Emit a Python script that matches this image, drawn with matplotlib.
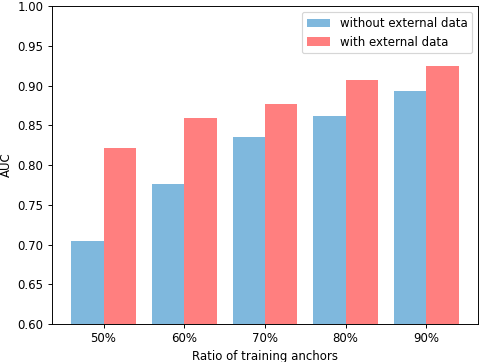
import numpy as np
import matplotlib
matplotlib.use('Agg')
import matplotlib.pyplot as plt

categorias = ['50%', '60%', '70%', '80%', '90%']
sem_externo = [0.705, 0.776, 0.835, 0.862, 0.893]
com_externo = [0.822, 0.859, 0.877, 0.907, 0.925]

x = np.arange(len(categorias))
largura = 0.4

dpi = 85
fig, ax = plt.subplots(figsize=(480 / dpi, 362 / dpi), dpi=dpi)
fig.subplots_adjust(left=0.108, right=0.996, bottom=0.105, top=0.983)

ax.bar(x - largura / 2, sem_externo, largura, color='#0072BD', alpha=0.5, label='without external data')
ax.bar(x + largura / 2, com_externo, largura, color='#FF0000', alpha=0.5, label='with external data')

ax.set_ylim(0.6, 1.0)
ax.set_xticks(x)
ax.set_xticklabels(categorias)
ax.set_xlabel('Ratio of training anchors')
ax.set_ylabel('AUC')
ax.legend(loc='upper right')

plt.savefig('out.png', dpi=dpi)
